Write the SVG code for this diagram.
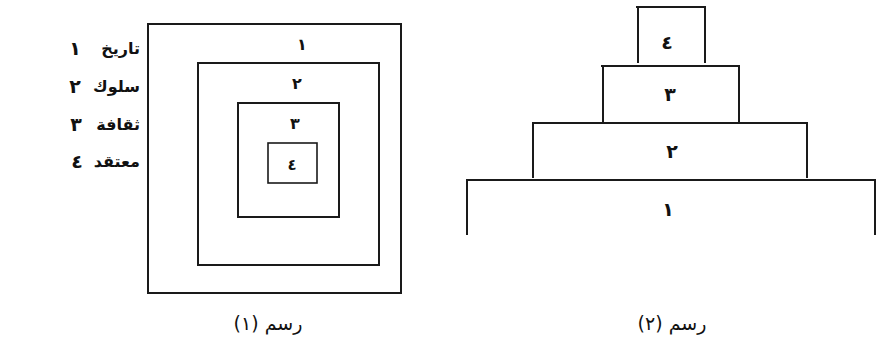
<svg xmlns="http://www.w3.org/2000/svg" width="880" height="350" viewBox="0 0 880 350">
<style>
.ln{fill:none;stroke:#1a1a1a;stroke-width:2;stroke-linecap:square}
.w{font-family:"DejaVu Sans",sans-serif;font-size:16px;fill:#111;font-weight:bold}
.n{font-family:"DejaVu Sans",sans-serif;font-size:19px;fill:#111;font-weight:bold;text-anchor:middle}
.cap{font-family:"DejaVu Sans",sans-serif;font-size:19px;fill:#111;text-anchor:middle}
</style>
<rect width="880" height="350" fill="#fff"/>
<g id="legend">
<text class="w" x="140" y="54" direction="rtl" text-anchor="start">تاريخ</text>
<text class="n" x="75" y="55">١</text>
<text class="w" x="140" y="92" direction="rtl" text-anchor="start">سلوك</text>
<text class="n" x="75" y="93">٢</text>
<text class="w" x="140" y="130" direction="rtl" text-anchor="start">ثقافة</text>
<text class="n" x="76" y="131">٣</text>
<text class="w" x="140" y="167" direction="rtl" text-anchor="start">معتقد</text>
<text class="n" x="77" y="168">٤</text>
</g>
<g id="fig1">
<g id="sq1"><rect class="ln" x="148" y="24" width="253" height="269"/><text class="n" x="302" y="50" style="font-size:16px">١</text></g>
<g id="sq2"><rect class="ln" x="198" y="63" width="181" height="202"/><text class="n" x="297" y="89" style="font-size:16px">٢</text></g>
<g id="sq3"><rect class="ln" x="238" y="103" width="101" height="114"/><text class="n" x="295" y="129" style="font-size:16px">٣</text></g>
<g id="sq4"><rect class="ln" x="268" y="143" width="49" height="40" style="stroke-width:1.6"/><text class="n" x="292" y="170" style="font-size:15px">٤</text></g>
<text class="cap" x="268" y="330" direction="rtl">رسم (١)</text>
</g>
<g id="fig2">
<g id="lv4"><path class="ln" d="M637 7H705M638 7V62M705 7V62"/><text class="n" x="667" y="49">٤</text></g>
<g id="lv3"><path class="ln" d="M602 66H739M603 66V121M739 66V121"/><text class="n" x="670" y="101">٣</text></g>
<g id="lv2"><path class="ln" d="M533 123H807M533 123V177M807 123V177"/><text class="n" x="672" y="158">٢</text></g>
<g id="lv1"><path class="ln" d="M467 180H875M467 180V234M875 180V234"/><text class="n" x="668" y="216">١</text></g>
<text class="cap" x="672" y="330" direction="rtl">رسم (٢)</text>
</g>
</svg>
